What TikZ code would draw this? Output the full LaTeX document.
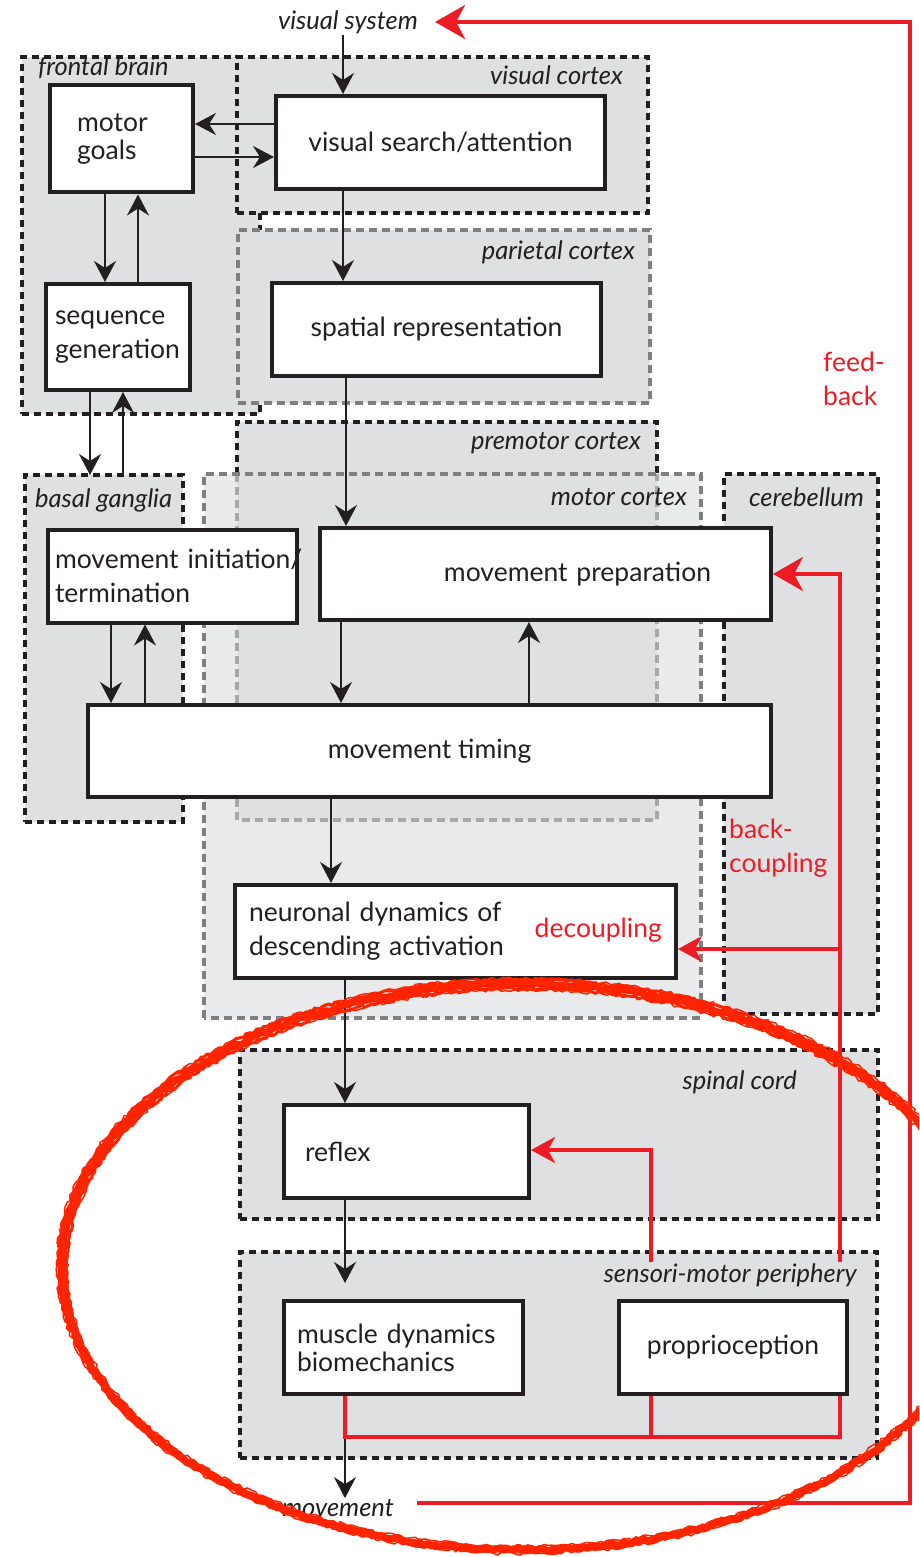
\documentclass[tikz,border=0pt]{standalone}
\usepackage{fontspec}
\setmainfont{Lato}
\usetikzlibrary{arrows.meta,fit,decorations.pathmorphing}
\definecolor{ink}{HTML}{231F20}
\definecolor{zone}{HTML}{DFE0E2}
\definecolor{zonelight}{HTML}{E9EAEB}
\definecolor{dashgray}{HTML}{7F7F7F}
\definecolor{dashlight}{HTML}{A8A8A8}
\definecolor{fbred}{HTML}{ED1C24}
\definecolor{scribble}{HTML}{FF2400}
\begin{document}
\begin{tikzpicture}[x=1pt,y=-1pt,
  boxfont/.style={font=\fontsize{26.5}{34}\selectfont},
  zonefill/.style={fill=zone, inner sep=0pt, outer sep=0pt},
  blackdots/.style={draw=ink, line width=3.5pt, dash pattern=on 7pt off 5pt},
  graydash/.style={draw=dashgray, line width=3.5pt, dash pattern=on 8pt off 5pt},
  box/.style={draw=ink, fill=white, line width=4pt, inner sep=0pt, boxfont, text=ink},
  lbl/.style={font=\fontsize{25.5}{30}\selectfont\itshape, text=ink, inner sep=1pt},
  redtxt/.style={font=\fontsize{26.5}{34}\selectfont, text=fbred, align=left, inner sep=1pt},
  arr/.style={draw=ink, line width=2pt, -{Stealth[length=21pt,width=22pt,inset=7pt]}},
  redline/.style={draw=fbred, line width=3.5pt},
  redarr/.style={redline, -{Stealth[length=24pt,width=26pt,inset=7pt]}},
  redarrbig/.style={redline, -{Stealth[length=30pt,width=34pt,inset=9pt]}},
  scrib/.style={draw=scribble, line join=round, decorate,
    decoration={random steps, segment length=4pt, amplitude=1.8pt}}
]
\useasboundingbox (0,0) rectangle (919,1557);
\fill[white] (0,0) rectangle (919,1557);

% ---- brain areas (background zones) ----
\node[zonefill, blackdots, fit={(22,57) (260,414)}] (frontal) {};
\node[zonefill, blackdots, fit={(237,57) (648,213)}] (viscortex) {};
\node[zonefill, graydash, fit={(238,230) (650,403)}] (parietal) {};
\node[zonefill, fill=zonelight, fit={(204,474) (701,1018)}] (motor) {};
\node[zonefill, fit={(237,422) (657,820)}] (premotor) {};
\draw[blackdots] (premotor.south west |- motor.north) -- (premotor.north west)
  -- (premotor.north east) -- (premotor.south east |- motor.north);
\draw[graydash, draw=dashlight] (premotor.south west |- motor.north) -- (premotor.south west)
  -- (premotor.south east) -- (premotor.south east |- motor.north);
\draw[graydash] (motor.south west) rectangle (motor.north east);
\node[zonefill, blackdots, fit={(724,474) (878,1014)}] (cereb) {};
\node[zonefill, blackdots, fit={(25,475) (183,822)}] (basal) {};
\node[zonefill, blackdots, fit={(240,1050) (878,1219)}] (spinal) {};
\node[zonefill, blackdots, fit={(240,1252) (877,1458)}] (periph) {};

% ---- area labels ----
\node[lbl, anchor=west] (lfrontal) at (37,68) {frontal brain};
\node[lbl, anchor=east] (lvis) at (624,75) {visual cortex};
\node[lbl, anchor=east] (lpar) at (636,252) {parietal cortex};
\node[lbl, anchor=east] (lpre) at (642,443) {premotor cortex};
\node[lbl, anchor=east] (lmot) at (688,497) {motor cortex};
\node[lbl, anchor=east] (lcer) at (865,497) {cerebellum};
\node[lbl, anchor=west] (lbas) at (34,500) {basal ganglia};
\node[lbl, anchor=east] (lspi) at (798,1082) {spinal cord};
\node[lbl, anchor=east, fill=zone] (smlbl) at (858,1275) {sensori-motor periphery};
\node[lbl] (vis) at (348,22) {visual system};
\node[lbl] (mov) at (338,1508) {movement};

% ---- processing stages ----
\node[box, minimum width=143pt, minimum height=107pt, text width=89pt, align=left,
  font=\fontsize{26.5}{28}\selectfont] (goals) at (121.5,139) {motor\\goals};
\node[box, minimum width=329pt, minimum height=93pt, align=center] (search) at (440.5,142.5) {visual search/attention};
\node[box, minimum width=144pt, minimum height=106pt, text width=126pt, align=left] (seq) at (118,337) {\mbox{sequence}\\\mbox{generation}};
\node[box, minimum width=329pt, minimum height=93pt, align=center] (spatial) at (436.5,329.5) {spatial representation};
\node[box, minimum width=249pt, minimum height=93pt, text width=235pt, align=left] (init) at (172.5,576) {\mbox{movement initiation/}\\\mbox{termination}};
\node[box, minimum width=451pt, minimum height=92pt, text width=331pt, align=right] (prep) at (545.5,574) {movement preparation};
\node[box, minimum width=683pt, minimum height=92pt, align=center] (timing) at (429.5,751) {movement timing};
\node[box, minimum width=441pt, minimum height=93pt, text width=413pt, align=left] (neur) at (455.5,931.5) {\mbox{neuronal dynamics of}\\\mbox{descending activation}};
\node[redtxt, anchor=east] (decouple) at (663,930) {decoupling};
\node[box, minimum width=245pt, minimum height=93pt, text width=203pt, align=left] (reflex) at (406.5,1151.5) {reflex};
\node[box, minimum width=239pt, minimum height=93pt, text width=213pt, align=left,
  font=\fontsize{26.5}{28}\selectfont] (muscle) at (403.5,1347.5) {\mbox{muscle dynamics}\\\mbox{biomechanics}};
\node[box, minimum width=228pt, minimum height=93pt, align=center] (prop) at (733,1347.5) {proprioception};

% ---- red annotations ----
\node[redtxt, anchor=west] (feedback) at (822,379) {feed-\\back};
\node[redtxt, anchor=west] (backcoup) at (728,848) {back-\\coupling};

% ---- forward pathway ----
\draw[arr] (vis.south -| 343,0) -- (search.north -| 343,0);
\draw[arr] (search.west |- 0,124) -- (goals.east |- 0,124);
\draw[arr] (goals.east |- 0,157) -- (search.west |- 0,157);
\draw[arr] (search.south -| 343,0) -- (spatial.north -| 343,0);
\draw[arr] (goals.south -| 105,0) -- (seq.north -| 105,0);
\draw[arr] (seq.north -| 138,0) -- (goals.south -| 138,0);
\draw[arr] (seq.south -| 90,0) -- (basal.north -| 90,0);
\draw[arr] (basal.north -| 123,0) -- (seq.south -| 123,0);
\draw[arr] (spatial.south -| 346,0) -- (prep.north -| 346,0);
\draw[arr] (init.south -| 111,0) -- (timing.north -| 111,0);
\draw[arr] (timing.north -| 145,0) -- (init.south -| 145,0);
\draw[arr] (prep.south -| 341,0) -- (timing.north -| 341,0);
\draw[arr] (timing.north -| 529,0) -- (prep.south -| 529,0);
\draw[arr] (timing.south -| 331,0) -- (neur.north -| 331,0);
\draw[arr] (neur.south -| 345,0) -- (reflex.north -| 345,0);
\draw[arr, shorten >=16pt] (reflex.south -| 345,0) -- (muscle.north -| 345,0);
\draw[arr] (muscle.south -| 345,0) -- (mov.north -| 345,0);

% ---- feedback loops ----
\draw[redline] (muscle.south -| 345,0) |- (840,1437) -- (prop.south -| 840,0);
\draw[redline] (prop.south -| 651,0) -- (651,1437);
\draw[redarrbig] (smlbl.north -| 840,0) -- (prep.east -| 840,0) -- (prep.east);
\draw[redarr] (840,949) -- (neur.east |- 0,949);
\draw[redarr] (smlbl.north -| 651,0) |- (reflex.east |- 0,1150);
\draw[redarrbig] ([xshift=22pt,yshift=5pt]mov.east) -| (910,22) -- ([xshift=16pt]vis.east);

% ---- hand-drawn ring round the spinal loop ----
\begin{scope}
  \clip (0,0) rectangle (919,1557);
  \pgfmathsetseed{3}
  \draw[scrib, line width=7.5pt] (523,1267) ellipse [x radius=461, y radius=283];
  \draw[scrib, line width=3pt] (522,1265) ellipse [x radius=463.5, y radius=285.5];
  \draw[scrib, line width=3pt] (524,1269) ellipse [x radius=458.5, y radius=280.5];
  \draw[scrib, line width=1.5pt] (523,1266) ellipse [x radius=466, y radius=287.5];
  \draw[scrib, line width=1.5pt] (523,1268) ellipse [x radius=456, y radius=278.5];
\end{scope}
\end{tikzpicture}
\end{document}
